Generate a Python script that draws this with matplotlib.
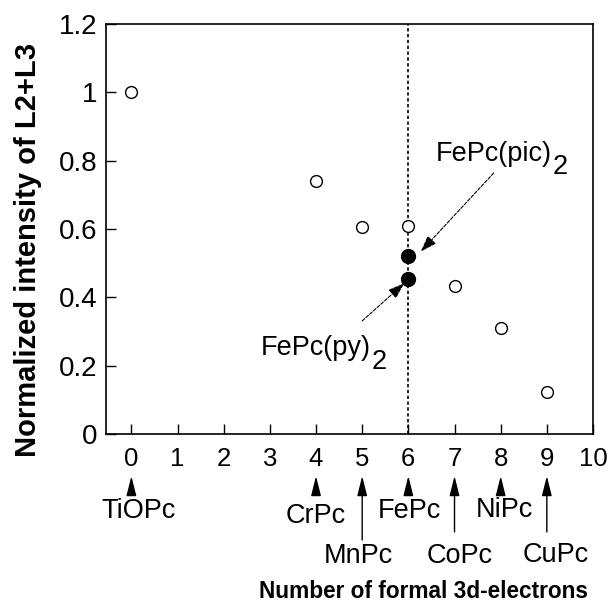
import matplotlib
matplotlib.use('Agg')
from matplotlib import pyplot as plt

plt.rcParams['font.family'] = ['Liberation Sans', 'DejaVu Sans']

# Open circles: metal phthalocyanines
n_electrons = [0, 4, 5, 6, 7, 8, 9]
intensity = [1.0, 0.741, 0.605, 0.61, 0.432, 0.311, 0.124]

# Filled circles: FePc with axial ligands
fe_ligand_x = [6, 6]
fe_ligand_y = [0.522, 0.453]

compounds = ['TiOPc', 'CrPc', 'MnPc', 'FePc', 'CoPc', 'NiPc', 'CuPc']
compound_x = [0, 4, 5, 6, 7, 8, 9]
# layout of labels below the axis (baselines in figure pixels from bottom)
label_dx = [0.15, 0.0, -0.08, 0.02, 0.11, 0.08, 0.19]
label_y = [94, 89, 49, 94, 49, 95, 50]
tail_y = [118, 118, 72, 118, 80, 118, 80]

fig = plt.figure(figsize=(6.16, 6.12), dpi=100)
ax = fig.add_axes([106/616, 1-434/612, 487/616, 410/612])

ax.axvline(6, color='black', lw=1.2, ls=(0, (2, 1.5)), zorder=1)
ax.plot(n_electrons, intensity, 'o', ms=8.5, mfc='white', mec='black', mew=1.0, zorder=3)
ax.plot(fe_ligand_x, fe_ligand_y, 'o', ms=10, mfc='black', mec='black', zorder=3)

ax.set_xlim(-0.55, 10.0)
ax.set_ylim(0, 1.2)
ax.set_xticks(range(0, 11))
ax.set_yticks([0, 0.2, 0.4, 0.6, 0.8, 1.0, 1.2])
ax.set_yticklabels(['0', '0.2', '0.4', '0.6', '0.8', '1', '1.2'])
ax.tick_params(direction='in', length=7, width=1)
ax.tick_params(axis='x', labelsize=18.5, pad=9)
ax.tick_params(axis='y', labelsize=20, pad=6)
for s in ax.spines.values():
    s.set_linewidth(1.2)

ann_arrow = dict(arrowstyle='-|>,head_length=1.0,head_width=0.35', color='black',
                 lw=0.8, ls=(0, (3, 1.5)), shrinkA=0, shrinkB=0)
ax.annotate('', xy=(6.27, 0.534), xytext=(7.85, 0.764), arrowprops=ann_arrow)
ax.annotate('', xy=(5.91, 0.441), xytext=(5.0, 0.331), arrowprops=ann_arrow)

t1 = ax.text(6.6, 0.80, 'FePc(pic)', fontsize=19.5, va='baseline', ha='left')
ax.annotate('2', xy=(1, 0), xycoords=t1, xytext=(0.5, -5.5), textcoords='offset points',
            fontsize=19.5, va='baseline', ha='left')
t2 = ax.text(2.8, 0.231, 'FePc(py)', fontsize=19.5, va='baseline', ha='left')
ax.annotate('2', xy=(1, 0), xycoords=t2, xytext=(0.5, -5.5), textcoords='offset points',
            fontsize=19.5, va='baseline', ha='left')

# compound labels below the x axis
for name, x, dx, ly, ty in zip(compounds, compound_x, label_dx, label_y, tail_y):
    ax.annotate('', xy=(x, 136), xycoords=('data', 'figure pixels'),
                xytext=(x, ty), textcoords=('data', 'figure pixels'),
                arrowprops=dict(arrowstyle='-|>,head_length=1.2,head_width=0.3',
                                color='black', lw=1.0, shrinkA=0, shrinkB=0),
                annotation_clip=False)
    ax.annotate(name, xy=(x + dx, ly), xycoords=('data', 'figure pixels'),
                ha='center', va='baseline', fontsize=19.5, annotation_clip=False)

fig.text(28/616, 1-250/612, 'Normalized intensity of L2+L3', rotation=90,
         ha='center', va='center', fontsize=21, fontweight='bold')
fig.text(423/616, 1-591/612, 'Number of formal 3d-electrons',
         ha='center', va='center', fontsize=16.3, fontweight='bold')

fig.savefig('out.png', dpi=100)
